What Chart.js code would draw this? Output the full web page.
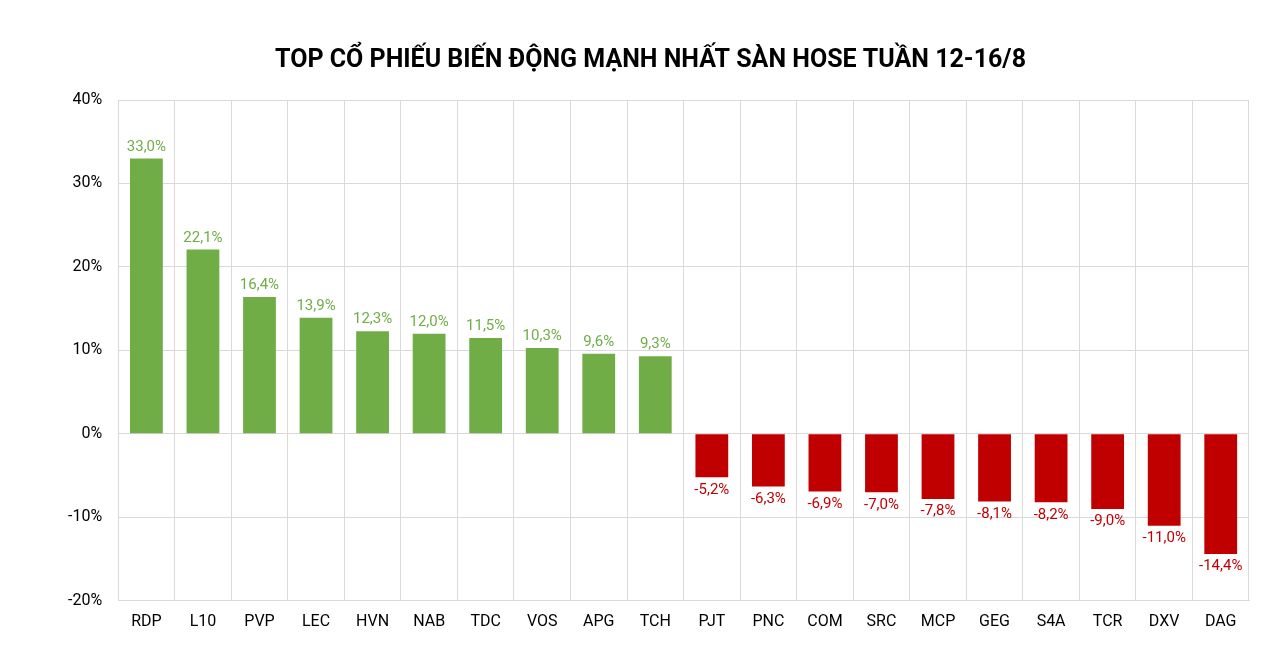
<!DOCTYPE html>
<html>
<head>
<meta charset="utf-8">
<script src="https://cdn.jsdelivr.net/npm/chart.js@4"></script>
<style>
  body { margin: 0; background: #fff; }
  #wrap { width: 1280px; height: 664px; position: relative; }
</style>
</head>
<body>
<div id="wrap"><canvas id="chart"></canvas></div>
<script>
const tickers = ['RDP', 'L10', 'PVP', 'LEC', 'HVN', 'NAB', 'TDC', 'VOS', 'APG', 'TCH',
  'PJT', 'PNC', 'COM', 'SRC', 'MCP', 'GEG', 'S4A', 'TCR', 'DXV', 'DAG'];
const changes = [33.0, 22.1, 16.4, 13.9, 12.3, 12.0, 11.5, 10.3, 9.6, 9.3,
  -5.2, -6.3, -6.9, -7.0, -7.8, -8.1, -8.2, -9.0, -11.0, -14.4];

const green = '#70AD47';
const red = '#C00000';
const colors = changes.map(v => v >= 0 ? green : red);

const fmt = v => v.toFixed(1).replace('.', ',') + '%';

// draw the value above / below each bar
const barLabels = {
  id: 'barLabels',
  afterDatasetsDraw(chart) {
    const ctx = chart.ctx;
    const meta = chart.getDatasetMeta(0);
    ctx.save();
    ctx.font = '15px Roboto';
    ctx.textAlign = 'center';
    meta.data.forEach((bar, i) => {
      const v = changes[i];
      ctx.fillStyle = colors[i];
      if (v >= 0) {
        ctx.textBaseline = 'bottom';
        ctx.fillText(fmt(v), bar.x, bar.y - 4);
      } else {
        ctx.textBaseline = 'top';
        ctx.fillText(fmt(v), bar.x, bar.y + 5);
      }
    });
    ctx.restore();
  }
};

new Chart(document.getElementById('chart'), {
  type: 'bar',
  data: {
    labels: tickers,
    datasets: [{
      data: changes,
      backgroundColor: colors,
      categoryPercentage: 1,
      barPercentage: 0.58
    }]
  },
  options: {
    responsive: true,
    maintainAspectRatio: false,
    animation: false,
    layout: { padding: { left: 52, right: 31, top: 10, bottom: 20 } },
    plugins: {
      legend: { display: false },
      tooltip: { enabled: false },
      title: {
        display: true,
        text: 'TOP CỔ PHIẾU BIẾN ĐỘNG MẠNH NHẤT SÀN HOSE TUẦN 12-16/8',
        color: '#000',
        font: { family: 'Roboto', size: 25, weight: 'bold' },
        padding: { top: 36, bottom: 24 }
      }
    },
    scales: {
      x: {
        grid: { color: '#d9d9d9', offset: true, drawTicks: false },
        border: { color: '#d9d9d9' },
        ticks: { color: '#000', font: { family: 'Roboto', size: 16 }, padding: 12 }
      },
      y: {
        min: -20, max: 40,
        grid: { color: '#d9d9d9', drawTicks: false },
        border: { display: false },
        ticks: {
          stepSize: 10,
          color: '#000',
          font: { family: 'Roboto', size: 16 },
          padding: 16,
          callback: v => v + '%'
        }
      }
    }
  },
  plugins: [barLabels]
});
</script>
</body>
</html>
